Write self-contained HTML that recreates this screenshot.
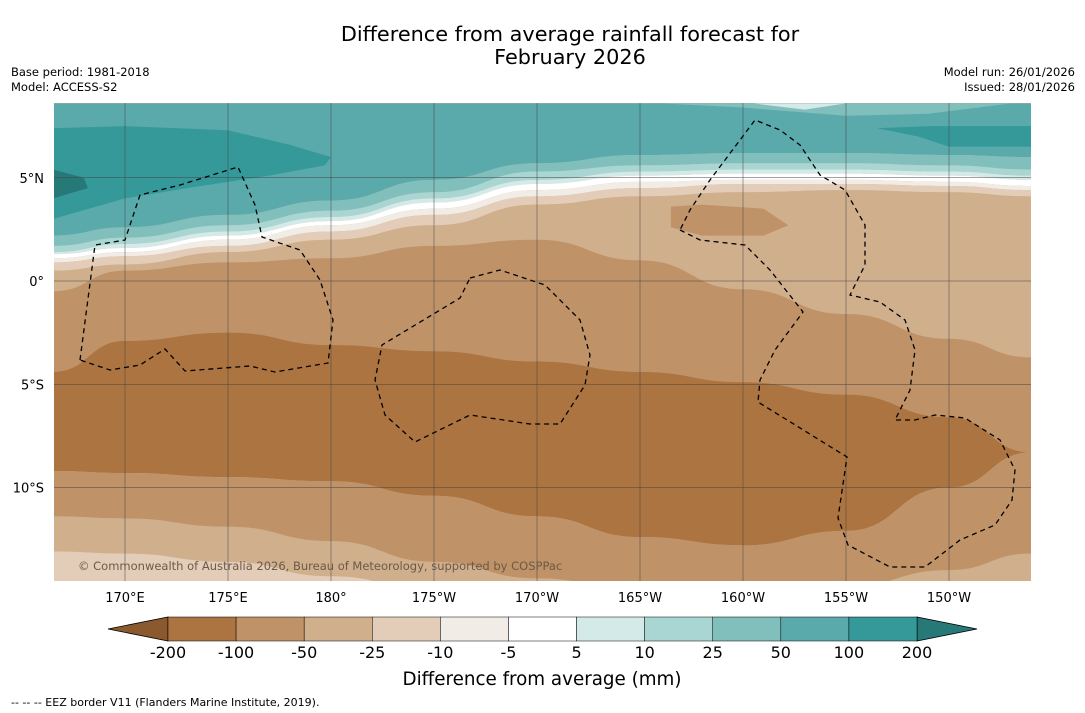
<!DOCTYPE html>
<html><head><meta charset="utf-8"><style>
body{margin:0;background:#fff;font-family:"Liberation Sans",sans-serif}
svg{display:block}
text{font-family:"DejaVu Sans","Liberation Sans",sans-serif}
</style></head><body>
<svg id="s" width="1085" height="713">
<text x="570" y="41" font-size="20.8" text-anchor="middle">Difference from average rainfall forecast for</text>
<text x="570" y="64" font-size="20.8" text-anchor="middle">February 2026</text>
<text x="11" y="76" font-size="11.5">Base period: 1981-2018</text>
<text x="11" y="91" font-size="11.5">Model: ACCESS-S2</text>
<text x="1075" y="76" font-size="11.5" text-anchor="end">Model run: 26/01/2026</text>
<text x="1075" y="91" font-size="11.5" text-anchor="end">Issued: 28/01/2026</text>
<defs><clipPath id="mc"><rect x="54" y="103" width="977" height="478"/></clipPath></defs>
<g id="map" clip-path="url(#mc)"></g>
<g id="axes"></g>
<g id="cbar"></g>
<text x="542" y="685" font-size="18.3" text-anchor="middle">Difference from average (mm)</text>
<text x="11" y="706" font-size="11">--  --  -- EEZ border V11 (Flanders Marine Institute, 2019).</text>
</svg>
<script>
// data
const sampleLons=[166.5,170,175,180,185,190,195,200,205,210,214];
const lonTicks=[170,175,180,185,190,195,200,205,210];
const lonTickLabels=["170°E","175°E","180°","175°W","170°W","165°W","160°W","155°W","150°W"];
const latTicks=[5,0,-5,-10];
const latTickLabels=["5°N","0°","5°S","10°S"];
const cbLabels=["-200","-100","-50","-25","-10","-5","5","10","25","50","100","200"];
const cbColors=["#ab7440","#bf9268","#d0af8d","#e3cdb8","#f2ece6","#ffffff","#d4eae8","#a9d5d2","#80bfbc","#5aaaab","#35999a"];
const lowColor="#8a5a2e", highColor="#267977";
// boundary latitudes (deg) at sampleLons
const bTop=[8.6,8.6,8.6,8.6,8.6,8.6,8.6,8.6,8.6,8.6,8.6];
const b1=[2.2,2.6,3.2,3.9,4.9,5.7,6.1,6.2,6.2,6.1,6.0];
const b2=[1.7,2.1,2.7,3.4,4.3,5.3,5.6,5.7,5.7,5.6,5.4];
const b3=[1.4,1.8,2.4,3.1,4.0,4.9,5.3,5.4,5.4,5.3,5.1];
const b4=[1.3,1.6,2.2,2.9,3.8,4.7,5.1,5.2,5.2,5.1,4.9];
const b5=[1.1,1.4,2.0,2.7,3.5,4.4,4.8,4.9,4.9,4.8,4.6];
const b6=[0.9,1.2,1.7,2.4,3.2,4.1,4.5,4.7,4.7,4.6,4.4];
const b7=[0.5,0.8,1.4,2.0,2.7,3.7,4.1,4.3,4.4,4.3,4.1];
const b8=[-0.5,0.5,0.9,1.1,1.7,2.0,1.0,-0.4,-1.6,-2.8,-3.7];
const b9=[-4.4,-2.9,-2.5,-3.1,-3.4,-3.9,-4.4,-4.9,-5.5,-6.6,-8.3];
const b10=[-9.2,-9.3,-9.5,-9.7,-10.4,-11.4,-12.4,-12.8,-12.1,-10.0,-8.3];
const b11=[-11.4,-11.5,-11.9,-12.6,-13.6,-14.4,-15,-15,-14.8,-14.0,-13.2];
const b12=[-13.1,-13.2,-13.6,-14.3,-15,-15,-15,-15,-15,-15,-15];
const bBot=[-15,-15,-15,-15,-15,-15,-15,-15,-15,-15,-15];
const bands=[[bTop,b1,"#5aaaab"],[b1,b2,"#80bfbc"],[b2,b3,"#a9d5d2"],[b3,b4,"#d4eae8"],[b4,b5,"#ffffff"],[b5,b6,"#f2ece6"],[b6,b7,"#e3cdb8"],[b7,b8,"#d0af8d"],[b8,b9,"#bf9268"],[b9,b10,"#ab7440"],[b10,b11,"#bf9268"],[b11,b12,"#d0af8d"],[b12,bBot,"#e3cdb8"]];
// blobs: [lons, lats, color]
const blobLons1=[166.5,170,175,178,180,179.7,177,173,170,166.5];
const blobLats1=[7.4,7.5,7.3,6.6,6.0,5.6,5.1,4.5,4.0,3.0];
const blobLons2=[206.5,209,214,214,210,208.5];
const blobLats2=[7.4,7.5,7.5,6.5,6.5,7.0];
const blobLons3=[196.5,198,201,202.2,201,198,196.5];
const blobLats3=[3.6,3.7,3.5,2.7,2.2,2.2,2.6];
const blobLons4=[200.5,203,205,203,200.5];
const blobLats4=[8.6,8.6,8.6,8.3,8.6];
const blobLons5=[196,200,205,209,213,213,196];
const blobLats5=[8.6,8.4,8.0,8.1,8.6,8.6,8.6];
const blobLons6=[166.5,168,168.2,166.5];
const blobLats6=[5.4,5.0,4.5,4.0];

const X=lon=>125+(lon-170)*20.6;
const Y=lat=>281-lat*20.65;
const NS="http://www.w3.org/2000/svg";
function mk(tag,attrs,parent){const e=document.createElementNS(NS,tag);for(const k in attrs)e.setAttribute(k,attrs[k]);parent.appendChild(e);return e;}
function smooth(pts){let d="M"+pts[0][0]+","+pts[0][1];for(let i=1;i<pts.length;i++){const p0=pts[i-1],p1=pts[i];const mx=(p0[0]+p1[0])/2;d+=" C"+mx+","+p0[1]+" "+mx+","+p1[1]+" "+p1[0]+","+p1[1];}return d;}
const map=document.getElementById('map');
mk('rect',{x:54,y:103,width:977,height:478,fill:"#d0af8d"},map);
bands.forEach((b,i)=>{
  const top=sampleLons.map((l,j)=>[X(l),Y(b[0][j])]);
  const bot=sampleLons.map((l,j)=>[X(l),Y(b[1][j])]).reverse();
  let d=smooth(top)+" L"+bot[0][0]+","+bot[0][1]+smooth(bot).slice(smooth(bot).indexOf(" C"))+" Z";
  const p=mk('path',{d:d,fill:b[2]},map);
  
  
});
[[blobLons1,blobLats1,"#35999a"],[blobLons2,blobLats2,"#35999a"],[blobLons3,blobLats3,"#bf9268"],[blobLons5,blobLats5,"#80bfbc"],[blobLons4,blobLats4,"#d4eae8"],[blobLons6,blobLats6,"#267977"]].forEach((b,i)=>{
  const pts=b[0].map((l,j)=>X(l)+","+Y(b[1][j])).join(" ");
  const p=mk('polygon',{points:pts,fill:b[2]},map);
  
  
});
// grid
lonTicks.forEach(l=>{const g=mk('line',{x1:X(l),x2:X(l),y1:103,y2:581,stroke:"#444","stroke-width":0.5},map);});
latTicks.forEach(l=>{const g=mk('line',{x1:54,x2:1031,y1:Y(l),y2:Y(l),stroke:"#444","stroke-width":0.5},map);});
// EEZ
const eez=["80,360 95,245 125,240 140,195 180,185 238,167 255,205 262,237 300,250 320,280 333,320 328,363 275,372 250,366 185,371 165,349 140,365 110,370 80,360",
"470,278 500,270 545,285 580,320 590,355 585,385 560,424 530,424 470,415 415,442 385,415 375,380 382,345 460,298 470,278",
"680,230 700,240 745,245 770,270 803,312 775,350 760,380 758,402 847,457 838,518 848,545 890,567 925,567 960,540 995,525 1012,500 1015,470 1000,440 965,418 935,415 915,420 895,420 910,390 915,350 905,320 880,302 850,295 865,265 865,225 845,190 820,175 800,145 780,130 755,120 740,140 710,180 690,210 680,230"];
eez.forEach(p=>{const e=mk('polyline',{points:p,fill:"none",stroke:"#000","stroke-width":1.3,"stroke-dasharray":"5,4"},map);});
const cp=mk('text',{x:78,y:570,"font-size":11.5,fill:"#6b5a48"},map);cp.textContent="© Commonwealth of Australia 2026, Bureau of Meteorology, supported by COSPPac";

// axes labels
const ax=document.getElementById('axes');
lonTicks.forEach((l,i)=>{const t=mk('text',{x:X(l),y:602,"font-size":13,"text-anchor":"middle"},ax);t.textContent=lonTickLabels[i];});
latTicks.forEach((l,i)=>{const t=mk('text',{x:44,y:Y(l)+5,"font-size":13,"text-anchor":"end"},ax);t.textContent=latTickLabels[i];});
// colorbar
const cb=document.getElementById('cbar');
const cx0=168,cw=(917-168)/cbColors.length,cy=617,ch=24;
mk('polygon',{points:`108,${cy+ch/2} ${cx0},${cy} ${cx0},${cy+ch}`,fill:lowColor,stroke:"#000","stroke-width":0.8},cb);
mk('polygon',{points:`977,${cy+ch/2} 917,${cy} 917,${cy+ch}`,fill:highColor,stroke:"#000","stroke-width":0.8},cb);
cbColors.forEach((c,i)=>{const r=mk('rect',{x:cx0+i*cw,y:cy,width:cw,height:ch,fill:c,stroke:"#000","stroke-width":0.5},cb);});
cbLabels.forEach((s,i)=>{const t=mk('text',{x:cx0+i*cw,y:658,"font-size":16,"text-anchor":"middle"},cb);t.textContent=s;});
</script>
</body></html>
